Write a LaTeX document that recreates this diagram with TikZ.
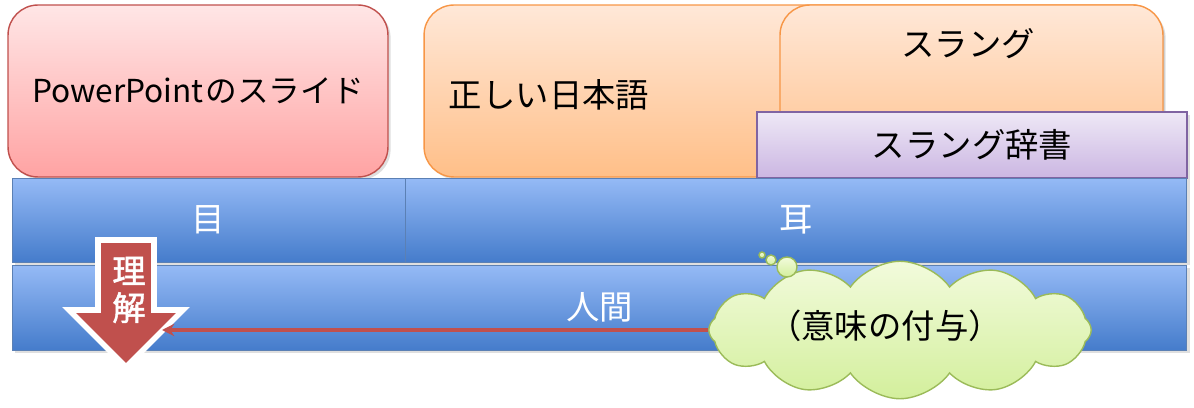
\documentclass[tikz,border=0pt]{standalone}
\usepackage{fontspec}
\setmainfont{Noto Sans CJK JP}
\newfontfamily\boldjp[FakeBold=1.5]{Noto Sans CJK JP}
\usepackage{tikz}
\usetikzlibrary{shapes.symbols,arrows.meta,shadows}

\definecolor{slidered}{HTML}{C0504D}
\definecolor{pinktop}{HTML}{FFE6E6}
\definecolor{pinkbot}{HTML}{FFA3A3}
\definecolor{orangeline}{HTML}{F79646}
\definecolor{orangetop}{HTML}{FFE8D8}
\definecolor{orangebot}{HTML}{FFBF88}
\definecolor{purpleline}{HTML}{8064A2}
\definecolor{purpletop}{HTML}{EEE8F6}
\definecolor{purplebot}{HTML}{CBB6E2}
\definecolor{blueline}{HTML}{5B80B4}
\definecolor{bluetop}{HTML}{95BAF6}
\definecolor{bluebot}{HTML}{457CCB}
\definecolor{cloudline}{HTML}{9BBB59}
\definecolor{cloudtop}{HTML}{F2FBDC}
\definecolor{cloudbot}{HTML}{D3EF9C}

\tikzset{
  lbl/.style={font=\fontsize{19}{23}\selectfont},
  softshadow/.style={drop shadow={opacity=0.25,shadow xshift=1.5pt,shadow yshift=-1.5pt}},
  pinkbox/.style={draw=slidered,line width=0.8pt,rounded corners=0.6cm,top color=pinktop,bottom color=pinkbot,softshadow,inner sep=0pt,font=\fontsize{18}{22}\selectfont},
  orangebox/.style={draw=orangeline,line width=0.8pt,rounded corners=0.6cm,top color=orangetop,bottom color=orangebot,softshadow,inner sep=0pt},
  purplebox/.style={draw=purpleline,line width=0.8pt,top color=purpletop,bottom color=purplebot,softshadow,inner sep=0pt,lbl},
  bluebar/.style={draw=blueline,line width=0.5pt,top color=bluetop,bottom color=bluebot,softshadow,inner sep=0pt,text=white,lbl},
  cloudbox/.style={draw=cloudline,line width=0.8pt,top color=cloudtop,bottom color=cloudbot},
}

\begin{document}
\begin{tikzpicture}[x=0.02cm,y=-0.02cm]
      \useasboundingbox (0,0) rectangle (1194,408);

      % PowerPoint
      \node [pinkbox,minimum width=7.6cm,minimum height=3.44cm] (slide) at (198,91) {PowerPoint\kern1pt のスライド};

      % Nihongo
      \node [orangebox,minimum width=14.76cm,minimum height=3.44cm] (nihongo) at (793,91) {};
      \node [lbl] (nihongotxt) at (549,95) {正しい日本語};
      \node [orangebox,minimum width=7.66cm,minimum height=3.44cm] (slang) at (971.5,91) {};
      \node [lbl] (slangtxt) at (968,44) {スラング};
      \node [purplebox,minimum width=8.6cm,minimum height=1.32cm] (dict) at (972,145) {スラング辞書};

      % Me, Mimi
      \node [bluebar,minimum width=7.86cm,minimum height=1.68cm] (eye) at (208.5,220) {目};
      \node [bluebar,minimum width=15.64cm,minimum height=1.68cm] (ear) at (796,220) {耳};

      % Ningen
      \node [bluebar,minimum width=23.5cm,minimum height=1.7cm] (human) at (599.5,307.5) {人間};

      % Rikai
      \fill [slidered] (98,240) -- ++ (56,0) -- ++ (0,70) -- ++ (29,0) -- ++ (-57,57) -- ++ (-57,-57) -- ++ (29,0) -- cycle;
      \draw [white,line width=3.2pt,line join=miter] (98,240) -- ++ (56,0) -- ++ (0,70) -- ++ (29,0) -- ++ (-57,57) -- ++ (-57,-57) -- ++ (29,0) -- cycle;
      \node [font=\boldjp\fontsize{19}{23}\selectfont,text=white,align=center,inner sep=0pt] (understand) at (129,290) {理\\[-2pt]解};
      \coordinate (arrowin) at (162,330);

      % Imi
      \node [cloudbox,cloud,cloud puffs=12,cloud puff arc=110,cloud ignores aspect,minimum width=7.65cm,minimum height=2.75cm,inner sep=0pt] (meaning) at (900,330) {};
      \node [lbl] (meaningtxt) at (885,326) {（意味の付与）};
      \node [cloudbox,circle,minimum size=0.4cm,inner sep=0pt] (puffa) at (787,267) {};
      \node [cloudbox,circle,minimum size=0.2cm,inner sep=0pt] (puffb) at (771,260) {};
      \node [cloudbox,circle,minimum size=0.12cm,inner sep=0pt] (puffc) at (762,255) {};
      \draw [slidered,line width=2.4pt,-{Stealth[length=7pt,width=7pt]}] (meaning.west |- arrowin) -- (arrowin);
    \end{tikzpicture}
\end{document}
